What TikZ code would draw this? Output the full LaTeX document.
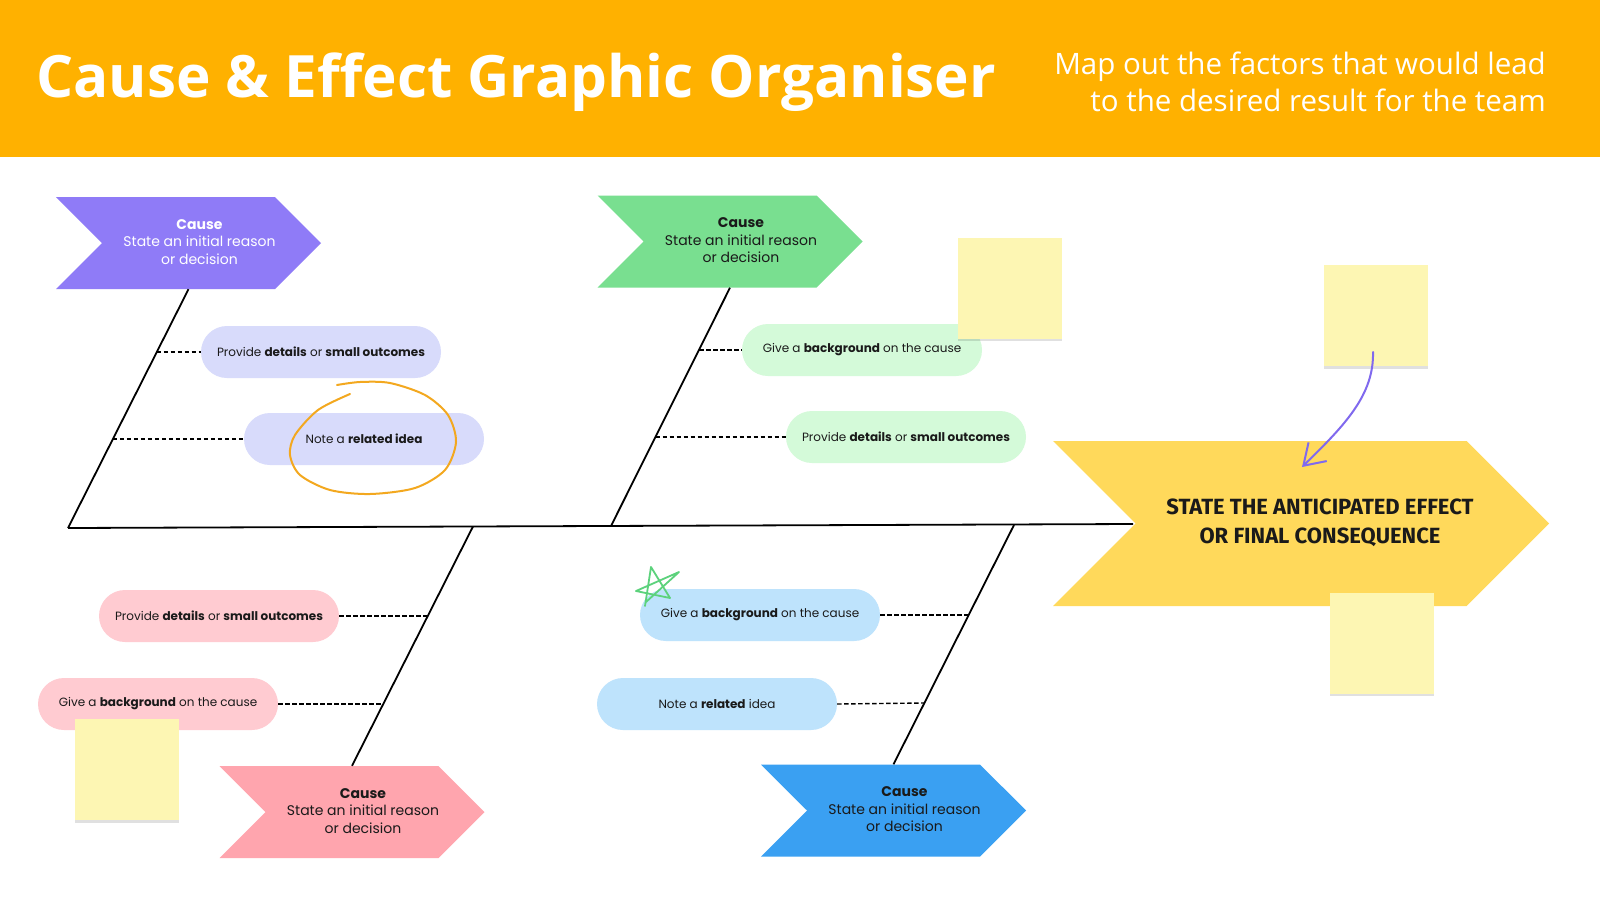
\documentclass[tikz,border=0pt]{standalone}
\usepackage{fontspec}
\setmainfont{Poppins}
\newfontfamily\titlefont{Open Sans}
\newfontfamily\effectfont{Fira Sans}
\usepackage{xcolor}
\usepackage{tikz}
\usetikzlibrary{positioning,arrows.meta,shapes.symbols,shadows}

\definecolor{headbg}{HTML}{FFB100}
\definecolor{purplec}{HTML}{8F7BF7}
\definecolor{purplep}{HTML}{D8DBFB}
\definecolor{greenc}{HTML}{79DF90}
\definecolor{greenp}{HTML}{D4FAD9}
\definecolor{pinkc}{HTML}{FFA5AE}
\definecolor{pinkp}{HTML}{FFCBD1}
\definecolor{bluec}{HTML}{3AA0F2}
\definecolor{bluep}{HTML}{BEE3FC}
\definecolor{effectc}{HTML}{FFD95B}
\definecolor{stickyc}{HTML}{FDF6B3}
\definecolor{inkpurple}{HTML}{8069EE}
\definecolor{inkorange}{HTML}{F3A81F}
\definecolor{inkgreen}{HTML}{5CD27C}
\definecolor{txt}{HTML}{1A1A1A}

\begin{document}
\begin{tikzpicture}[x=1pt, y=-1pt,
  chev/.style={signal, signal to=east, signal from=west, signal pointer angle=90,
    minimum width=265pt, minimum height=92pt, inner sep=0pt, text=txt,
    font=\fontsize{14}{17.5}\selectfont},
  pill/.style={rectangle, rounded corners=26pt, minimum width=240pt, minimum height=52pt,
    inner sep=0pt, text=txt, font=\fontsize{12}{14}\selectfont},
  bone/.style={line width=1.8pt, black},
  twig/.style={line width=1.4pt, black, dash pattern=on 4.5pt off 2.5pt},
  sticky/.style={rectangle, fill=stickyc, minimum width=104pt, minimum height=101pt,
    drop shadow={opacity=0.12, shadow xshift=0pt, shadow yshift=-2.5pt, fill=black}},
  ink/.style={line width=2pt, line cap=round, line join=round}
]

\useasboundingbox (0,0) rectangle (1600,900);
\fill[white] (0,0) rectangle (1600,900);

% Header band
\fill[headbg] (0,0) rectangle (1600,157);
\node[anchor=base west, inner sep=0pt, text=white,
  font=\titlefont\bfseries\fontsize{58.4}{60}\selectfont] (title) at (36,97)
  {Cause \& Effect Graphic Organiser};
\node[anchor=north east, inner sep=0pt, align=right, text=white,
  font=\titlefont\fontsize{29.5}{37}\selectfont] (subtitle) at (1546,52)
  {Map out the factors that would lead\\to the desired result for the team};

% Spine
\coordinate (tail) at (68,528);
\coordinate (head) at (1133,524);
\draw[bone] (tail) -- (head);

% Causes
\node[chev, fill=purplec, text=white] (c1) at (188.5,243)
  {\kern11pt\begin{tabular}{@{}c@{}}\textbf{Cause}\\State an initial reason\\or decision\end{tabular}\kern-11pt};
\node[chev, fill=greenc] (c2) at (730,241.5)
  {\kern11pt\begin{tabular}{@{}c@{}}\textbf{Cause}\\State an initial reason\\or decision\end{tabular}\kern-11pt};
\node[chev, fill=pinkc] (c3) at (352,812)
  {\kern11pt\begin{tabular}{@{}c@{}}\textbf{Cause}\\State an initial reason\\or decision\end{tabular}\kern-11pt};
\node[chev, fill=bluec] (c4) at (893.5,810.5)
  {\kern11pt\begin{tabular}{@{}c@{}}\textbf{Cause}\\State an initial reason\\or decision\end{tabular}\kern-11pt};

% Effect
\node[chev, fill=effectc, minimum width=496pt, minimum height=165pt,
  font=\effectfont\bfseries\fontsize{22}{29}\selectfont] (effect) at (1301,523.5)
  {\kern19pt\begin{tabular}{@{}c@{}}STATE THE ANTICIPATED EFFECT\\OR FINAL CONSEQUENCE\end{tabular}\kern-19pt};

% Bones
\coordinate (j2) at (611,526);
\coordinate (j3) at (473,526.5);
\coordinate (j4) at (1014,525);
\draw[bone] (c1.south) -- (tail);
\draw[bone] (c2.south) -- (j2);
\draw[bone] (c3.north) -- (j3);
\draw[bone] (c4.north) -- (j4);

% Sub-causes
\node[pill, fill=purplep] (p1a) at (321,352) {Provide \textbf{details} or \textbf{small outcomes}};
\node[pill, fill=purplep] (p1b) at (364,439) {Note a \textbf{related idea}};
\node[pill, fill=greenp] (p2a) at (862,350) {Give a \textbf{background} on the cause};
\node[pill, fill=greenp] (p2b) at (906,437) {Provide \textbf{details} or \textbf{small outcomes}};
\node[pill, fill=pinkp] (p3a) at (219,616) {Provide \textbf{details} or \textbf{small outcomes}};
\node[pill, fill=pinkp] (p3b) at (158,704) {Give a \textbf{background} on the cause};
\node[pill, fill=bluep] (p4a) at (760,615) {Give a \textbf{background} on the cause};
\node[pill, fill=bluep] (p4b) at (717,704) {Note a \textbf{related} idea};

% Dashed twigs
\coordinate (t1a) at (156.7,352);
\coordinate (t1b) at (112.9,439);
\coordinate (t2a) at (699,350);
\coordinate (t2b) at (655.5,437);
\coordinate (t3a) at (427.8,616);
\coordinate (t3b) at (383.3,704);
\coordinate (t4a) at (968.6,615);
\coordinate (t4b) at (924.3,703);
\draw[twig] (t1a) -- (p1a.west);
\draw[twig] (t1b) -- (p1b.west);
\draw[twig] (t2a) -- (p2a.west);
\draw[twig] (t2b) -- (p2b.west);
\draw[twig] (p3a.east) -- (t3a);
\draw[twig] (p3b.east) -- (t3b);
\draw[twig] (p4a.east) -- (t4a);
\draw[twig] (p4b.east) -- (t4b);

% Sticky notes
\node[sticky] (n1) at (1009.5,288) {};
\node[sticky] (n2) at (1376,315.5) {};
\node[sticky] (n3) at (1381.5,643) {};
\node[sticky] (n4) at (127,769.5) {};

% Hand-drawn marks
\coordinate (a1) at (1373,352);
\coordinate (a2) at (1302,467);
\draw[ink, inkpurple, -{Straight Barb[length=20pt, width=26pt, line width=2pt]}]
  (a1) .. controls (1374,395) and (1345,425) .. (a2);
\draw[ink, inkorange] plot[smooth] coordinates {(350,394) (318,410) (295,435) (290,455)
  (300,475) (330,490) (370,494) (415,488) (445,470) (456,442) (448,415) (425,395)
  (390,383) (360,382) (337,385)};
\draw[ink, inkgreen, line width=1.8pt] (645,606) -- (651,567) -- (670,598) -- (636,591)
  -- (679,572) -- (646,602);

\end{tikzpicture}
\end{document}
